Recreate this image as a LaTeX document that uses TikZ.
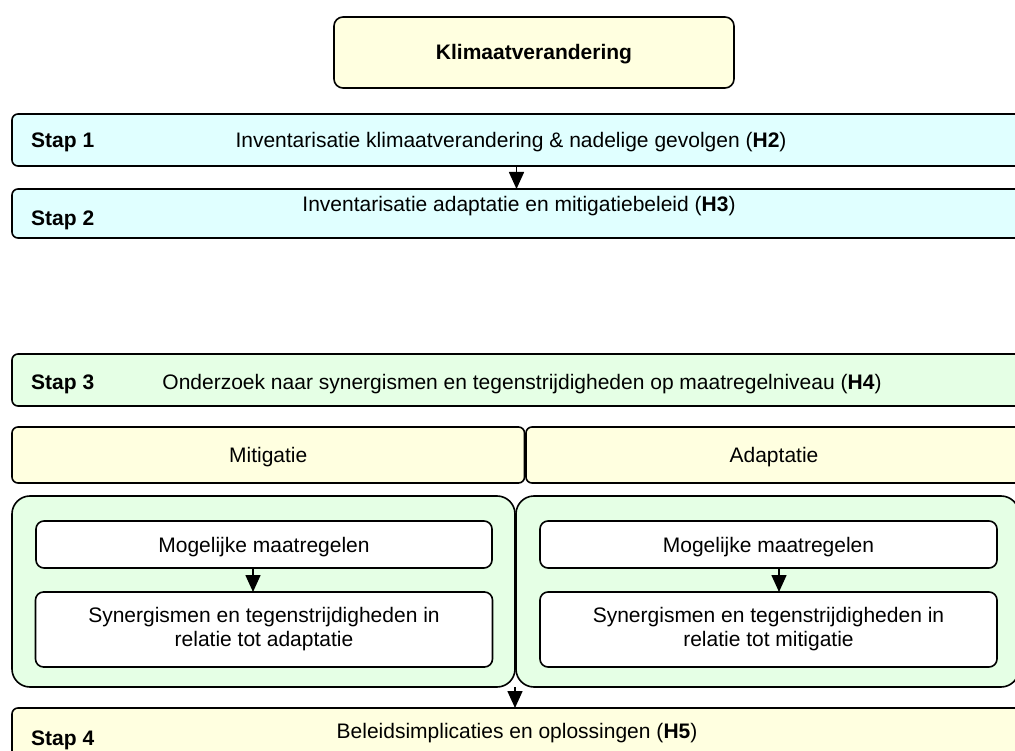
\documentclass[tikz,border=0pt]{standalone}
\usepackage{fontspec}
\setmainfont{Liberation Sans}
\usetikzlibrary{arrows.meta}
\definecolor{boxyellow}{RGB}{255,255,224}
\definecolor{boxcyan}{RGB}{224,255,255}
\definecolor{boxgreen}{RGB}{229,255,229}

\begin{document}
\begin{tikzpicture}[x=1pt,y=-1pt,
  frame/.style={draw=black, line width=1.6pt, rounded corners=6pt,
    inner sep=0pt, outer sep=0pt, align=center,
    font=\fontsize{21}{24}\selectfont, text height=15pt, text depth=0pt},
  txt/.style={inner sep=0pt, anchor=base, font=\fontsize{21}{24}\selectfont},
  steplbl/.style={inner sep=0pt, anchor=base west, font=\fontsize{21}{24}\selectfont\bfseries},
  arr/.style={line width=1.6pt, -{Triangle[length=17pt,width=15pt]}}]

\useasboundingbox (0,0) rectangle (1015,751);
\clip (0,0) rectangle (1015,751);

% title
\node[frame, fill=boxyellow, rounded corners=9pt, minimum width=400, minimum height=71,
  font=\fontsize{21}{24}\selectfont\bfseries] (klimaat) at (534,52.5) {Klimaatverandering};

% steps 1 and 2
\node[frame, fill=boxcyan, minimum width=1010, minimum height=52] (stap1) at (517,140) {};
\node[steplbl] (s1) at (31,148) {Stap 1};
\node[txt] (t1) at (511,148) {Inventarisatie klimaatverandering \& nadelige gevolgen (\textbf{H2})};

\node[frame, fill=boxcyan, minimum width=1010, minimum height=49] (stap2) at (517,213.5) {};
\node[steplbl] (s2) at (31,225.5) {Stap 2};
\node[txt] (t2) at (519,211.5) {Inventarisatie adaptatie en mitigatiebeleid (\textbf{H3})};

\coordinate (a12) at (516.5,0);
\draw[arr] (stap1.south -| a12) -- (stap2.north -| a12);

% step 3
\node[frame, fill=boxgreen, minimum width=1010, minimum height=52] (stap3) at (517,380) {};
\node[steplbl] (s3) at (31,389.5) {Stap 3};
\node[txt] (t3) at (522,389.5) {Onderzoek naar synergismen en tegenstrijdigheden op maatregelniveau (\textbf{H4})};

% headings
\node[frame, fill=boxyellow, minimum width=512.5, minimum height=56] (mitig) at (268.25,455) {Mitigatie};
\node[frame, fill=boxyellow, minimum width=496, minimum height=56] (adapt) at (774,455) {Adaptatie};

% panels
\node[frame, fill=boxgreen, rounded corners=18pt, minimum width=503, minimum height=191] (panelL) at (263.5,591.5) {};
\node[frame, fill=boxgreen, rounded corners=18pt, minimum width=503, minimum height=191] (panelR) at (767.5,591.5) {};

\node[frame, fill=white, rounded corners=8pt, minimum width=456, minimum height=47] (mogL) at (264,544.5) {Mogelijke maatregelen};
\node[frame, fill=white, rounded corners=8pt, minimum width=457, minimum height=75] (synL) at (264,629.5) {};
\node[txt] (synL1) at (264,622.5) {Synergismen en tegenstrijdigheden in};
\node[txt] (synL2) at (264,646) {relatie tot adaptatie};

\node[frame, fill=white, rounded corners=8pt, minimum width=457, minimum height=47] (mogR) at (768.5,544.5) {Mogelijke maatregelen};
\node[frame, fill=white, rounded corners=8pt, minimum width=457, minimum height=75] (synR) at (768.5,629.5) {};
\node[txt] (synR1) at (768.5,622.5) {Synergismen en tegenstrijdigheden in};
\node[txt] (synR2) at (768.5,646) {relatie tot mitigatie};

\coordinate (aL) at (253,0);
\coordinate (aR) at (779,0);
\draw[arr] (mogL.south -| aL) -- (synL.north -| aL);
\draw[arr] (mogR.south -| aR) -- (synR.north -| aR);

% step 4
\node[frame, fill=boxyellow, minimum width=1010, minimum height=62] (stap4) at (517,739) {};
\node[steplbl] (s4) at (31,745) {Stap 4};
\node[txt] (t4) at (517,738.5) {Beleidsimplicaties en oplossingen (\textbf{H5})};

\draw[arr] (panelL.south east) -- (stap4.north -| panelL.south east);
\end{tikzpicture}
\end{document}
